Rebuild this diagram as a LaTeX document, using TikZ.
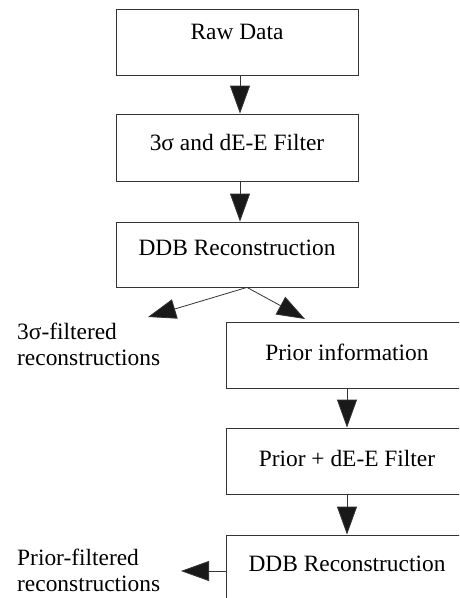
\documentclass[tikz,border=0pt]{standalone}
\usepackage{fontspec}
\setmainfont{Liberation Serif}
\usetikzlibrary{arrows.meta}
\tikzset{
    stepbox/.style={draw=black!80, line width=0.8pt, minimum width=242pt, minimum height=66pt, inner sep=0pt, text height=16pt, text depth=5pt},
    flow/.style={draw=black!80, line width=0.8pt, -{Triangle[length=28pt,width=20pt,fill=black!90]}},
    outtext/.style={align=left, anchor=north west, inner sep=0pt}
}
\begin{document}
\begin{tikzpicture}[x=1pt,y=-1pt,font=\fontsize{23.4}{26}\selectfont]
    \useasboundingbox (0,0) rectangle (459,598);
    \clip (0,0) rectangle (459,598);

    \node[stepbox, text depth=22pt] (raw) at (237,42){Raw Data};
    \node[stepbox, minimum height=67pt, text depth=10pt] (filt) at (237,147.5){3σ and dE-E Filter};
    \node[stepbox, minimum height=65pt, text depth=14pt] (ddb) at (237,254.5){DDB Reconstruction};

    \node[stepbox] (prior) at (347,355){Prior information};
    \node[stepbox] (pfilt) at (347,461){Prior + dE-E Filter};
    \node[stepbox, text depth=10pt] (ddbb) at (347,568){DDB Reconstruction};

    \node[outtext] (sigout) at (17,323){3σ-filtered\\reconstructions};
    \node[outtext] (priorout) at (17,549){Prior-filtered\\reconstructions};

    \coordinate (sigtip) at (148,317);
    \coordinate (priortip) at (305,319);
    \coordinate (outtip) at (181,571);

    \draw[flow] ([xshift=3pt]raw.south) to ([xshift=3pt]filt.north);
    \draw[flow] ([xshift=3pt]filt.south) to ([xshift=3pt]ddb.north);
    \draw[flow] ([xshift=10pt]ddb.south) to (sigtip);
    \draw[flow] ([xshift=10pt]ddb.south) to (priortip);
    \draw[flow] (prior) to (pfilt);
    \draw[flow] (pfilt) to (ddbb);
    \draw[flow] ([yshift=-3pt]ddbb.west) to (outtip);
\end{tikzpicture}
\end{document}
